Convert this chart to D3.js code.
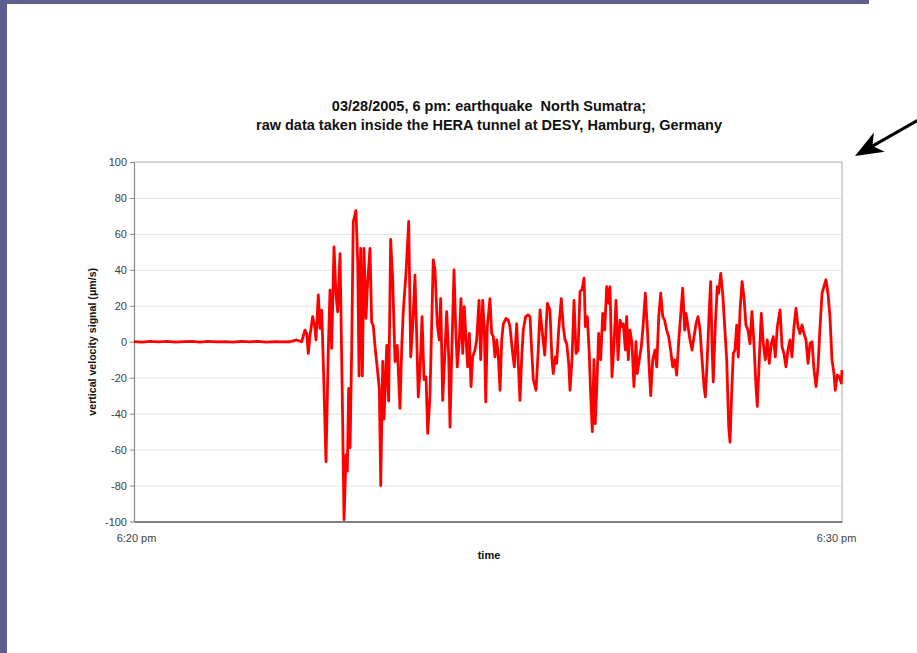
<!DOCTYPE html>
<html>
<head>
<meta charset="utf-8">
<script src="https://cdn.jsdelivr.net/npm/d3@7"></script>
<style>
  html, body { margin: 0; padding: 0; background: #ffffff; }
  svg { display: block; font-family: "Liberation Sans", Arial, sans-serif; }
</style>
</head>
<body>
<svg id="chart" width="917" height="653"></svg>
<script>
// Vertical velocity record, seconds after 6:20 pm
const timeSec = [
  0, 7, 14, 21, 28, 35, 42, 49, 56, 63, 70, 77, 84, 91, 98, 105, 112, 119, 126, 132.2,
  137.9, 142.1, 144.9, 146.4, 147.7, 149.2, 151.4, 153.4, 154.2, 156.2, 157.6, 159.1, 160.4,
  162.7, 164.7, 166.1, 167.5, 169.5, 171.2, 172.6, 174.6, 176.5, 178.0, 179.7, 180.8, 181.9,
  183.1, 184.5, 185.8, 188.1, 189.6, 190.7, 192.1, 193.5, 194.9, 196.6, 197.7, 200.0, 201.4,
  202.8, 204.2, 206.2, 207.9, 209.1, 210.8, 211.9, 214.2, 215.8, 217.5, 219.2, 221.2, 223.1,
  225.4, 226.9, 228.2, 230.5, 232.8, 234.5, 236.2, 238.1, 239.6, 240.9, 242.4, 244.1, 245.8,
  247.5, 248.9, 250.8, 253.6, 255.1, 257.0, 258.7, 259.9, 261.6, 263.3, 265.0, 266.7, 267.8,
  269.2, 271.2, 272.6, 274.0, 275.7, 277.1, 278.6, 279.9, 281.4, 282.8, 284.2, 285.6, 287.0,
  289.0, 290.4, 292.4, 293.8, 295.5, 296.9, 298.1, 299.4, 301.7, 303.1, 304.5, 305.9, 307.4,
  308.7, 310.2, 311.6, 313.0, 315.3, 317.2, 318.6, 320.6, 322.3, 324.3, 325.7, 327.1, 328.6,
  329.9, 331.9, 333.9, 335.6, 337.0, 338.4, 340.7, 342.6, 344.1, 346.4, 348.1, 350.3, 352.5,
  354.2, 355.3, 357.0, 358.2, 359.9, 362.1, 363.8, 365.3, 366.7, 368.4, 369.5, 371.2, 372.9,
  374.6, 376.3, 378.0, 379.7, 381.4, 382.5, 384.2, 385.8, 387.0, 388.4, 389.8, 390.9, 392.1,
  393.8, 395.5, 397.2, 398.9, 400.6, 402.3, 403.4, 405.1, 406.8, 408.5, 410.2, 411.9, 413.3,
  414.7, 416.4, 417.5, 418.9, 420.3, 422.0, 423.7, 425.4, 426.5, 428.2, 429.9, 431.6, 433.3,
  435.0, 436.7, 437.9, 439.6, 441.5, 443.0, 444.7, 446.4, 448.1, 449.7, 451.4, 453.1, 454.8,
  456.5, 458.2, 459.9, 461.6, 465.0, 466.7, 467.8, 469.5, 471.2, 472.9, 474.6, 476.3, 478.0,
  479.7, 481.4, 483.1, 484.2, 485.8, 487.5, 488.7, 489.8, 490.9, 492.6, 494.3, 495.5, 497.2,
  498.9, 500.6, 502.3, 504.0, 505.1, 506.5, 507.9, 509.3, 510.8, 512.1, 513.6, 515.3, 516.9,
  518.6, 520.3, 522.0, 523.7, 525.4, 527.1, 528.2, 529.9, 531.6, 533.3, 535.0, 536.7, 538.4,
  540.1, 541.8, 543.5, 545.2, 547.5, 549.2, 550.8, 552.5, 554.2, 555.9, 557.6, 559.3, 561.0,
  562.7, 564.4, 566.1, 567.8, 569.5, 571.2, 572.9, 574.6, 576.3, 578.0, 579.7, 581.4, 583.1,
  584.7, 586.4, 588.1, 589.8, 591.5, 593.2, 594.3, 596.0, 597.7, 599.4, 600.0
];

// Vertical velocity signal in µm/s, one value per entry of timeSec
const velocity = [
  0.1, -0.2, 0.2, -0.1, 0.2, -0.2, 0.1, 0.2, -0.2, 0.2, -0.1, 0.1, -0.2, 0.2, -0.1, 0.2, -0.2, 0.1, -0.1, 0,
  1, 0, 6.5, 4.6, -6.5, 3.7, 14, 7.4, 1, 26, 7.4, 17.6, -11,
  -66.7, -3.7, 28.7, -3.7, 52.8, 25.9, 16.7, 49, -29.6, -99, -63, -72, -26,
  -59, -3.7, 66.7, 73, 44, -19, 52, -19, 52, 13, 29.6, 52, 11,
  9, -2, -15, -26, -80, -11, -43, -2, -33, 57, 35, -11, -2,
  -37, -2.8, 16.8, 38, 67, -8.4, 8.4, 37, 2.8, -30.7, -15.8, 14, -21,
  -19.5, -51, -30.7, 45.6, 40, 10, 1, 24, -32.6, -8.4, 16.8, -8.4, -47.5,
  -8.4, 40, 8.4, -14, 1, 24, -6.5, 19.5, 1, -14, 4.6, -25, -8.4,
  -4.6, 1, 23, -10, 23, 6.5, -33.5, 8.4, 24, 4.6, 2.8, -8.4, 1,
  -7.4, -27, 1, 10, 13, 12, 8.4, -4.6, -14, 10, -12, -32.6, -8.4,
  6.5, 14, 15, 14, -4.6, -21, -27, -4.6, 17.7, 2.8, -7.4, 21.4, 17.7,
  -10, -17.7, -8.4, -12, 6.5, 24, 8.4, 1, -1, -12, -27, -10, 23,
  -6.5, -4.6, 28, 29, 35.4, 8.4, 14, -6.5, -29, -50, -10, -45.6, -27,
  4.6, -10, 15.8, 6.5, 30.7, 21.4, 30.7, -19.5, -1, 23, -10, 12, 8.4,
  10, -4.6, 14, -10, 6.5, -1, -25, 0, -17.7, -10, -2.8, 10, 27,
  8.4, -15.8, -30, -10, -4.6, -14, 14, 27, 14, 12, 6.5, 2.8, -4.6,
  -14, -10, -18.6, 0, 29.8, 6.5, 15.8, 8.4, 1, -4.6, 2.8, 10, 14,
  6.5, -10, -25, -30.7, -10, 17.7, 33.5, -1, -22.3, 8.4, 30.7, 27, 38,
  27, 8.4, -10, -47.5, -55.9, -28.8, -6.5, -4.6, 9.3, -8.4, 17.7, 33.5, 25,
  9.3, 6.5, -1, 16.8, -1, -25, -36, -10, 15.8, -1, -10, 1, -12,
  -1, 2.8, -8.4, 8.4, 17.7, -2.8, -6.5, -14, -4.6, 1, -8.4, 8.4, 18.6,
  8.4, 4.6, 9.3, 4.6, 1, -12, -1, 0, -15.8, -25, -14, 8.4, 27,
  30.7, 34.5, 27, 14, -10, -17.7, -27, -18.6, -19.5, -23, -15.8
];

const yTicks = [100, 80, 60, 40, 20, 0, -20, -40, -60, -80, -100];
const xTicks = [0, 600];
const xTickLabels = ["6:20 pm", "6:30 pm"];
const titleLines = [
  "03/28/2005, 6 pm: earthquake  North Sumatra;",
  "raw data taken inside the HERA tunnel at DESY, Hamburg, Germany"
];
const xTitle = "time";
const yTitle = "vertical velocity signal (\u03bcm/s)";

const svg = d3.select("#chart");
const W = 917, H = 653;
const plot = { left: 134, right: 842, top: 162, bottom: 521.5 };
const fontFamily = "'Liberation Sans', Arial, sans-serif";

// Slide frame: band along the left edge and across the top
const frameColor = "#5e5f91";
svg.append("rect").attr("x", 0).attr("y", 0).attr("width", W).attr("height", H).attr("fill", "#ffffff");
svg.append("rect").attr("x", 0).attr("y", 0).attr("width", 7).attr("height", H).attr("fill", frameColor);
svg.append("rect").attr("x", 0).attr("y", 0).attr("width", 869).attr("height", 4).attr("fill", frameColor);

const x = d3.scaleLinear().domain([0, 600]).range([plot.left, plot.right]);
const y = d3.scaleLinear().domain([-100, 100]).range([plot.bottom, plot.top]);

// Horizontal gridlines
svg.append("g")
  .attr("transform", `translate(${plot.left},0)`)
  .call(d3.axisLeft(y).tickValues(yTicks).tickSize(-(plot.right - plot.left)).tickFormat(""))
  .call(g => g.select(".domain").remove())
  .call(g => g.selectAll("line").attr("stroke", "#e4e4e4").attr("stroke-width", 1));

// Plot-area border on top and right
svg.append("path")
  .attr("d", `M${plot.left},${plot.top}H${plot.right}V${plot.bottom}`)
  .attr("fill", "none").attr("stroke", "#b8b8b8").attr("stroke-width", 1.2);

// Y axis (plain hyphen for negative labels)
const yAxis = svg.append("g")
  .attr("transform", `translate(${plot.left},0)`)
  .call(d3.axisLeft(y).tickValues(yTicks).tickSizeInner(4).tickSizeOuter(0).tickPadding(3)
    .tickFormat(d => String(d)));
yAxis.select(".domain").attr("stroke", "#8a8a8a").attr("stroke-width", 1.2);
yAxis.selectAll("line").attr("stroke", "#8a8a8a");
yAxis.selectAll("text").attr("fill", "#404040").attr("font-size", "11px")
  .attr("font-family", fontFamily);

// X axis
const xAxis = svg.append("g")
  .attr("transform", `translate(0,${plot.bottom})`)
  .call(d3.axisBottom(x).tickValues(xTicks).tickSize(0).tickPadding(13)
    .tickFormat((d, i) => xTickLabels[i]));
xAxis.select(".domain").attr("stroke", "#5a5a5a").attr("stroke-width", 1.4);
xAxis.selectAll("text").attr("fill", "#404040").attr("font-size", "11px")
  .attr("font-family", fontFamily)
  .attr("dx", (d, i) => (i === 0 ? 2 : -6));

// Seismic trace
const series = timeSec.map((t, i) => ({ t, v: velocity[i] }));
svg.append("path")
  .datum(series)
  .attr("fill", "none")
  .attr("stroke", "#ff0000")
  .attr("stroke-width", 2.8)
  .attr("stroke-linejoin", "round")
  .attr("d", d3.line().x(d => x(d.t)).y(d => y(d.v)));

// Titles
const title = svg.append("text")
  .attr("x", 489).attr("text-anchor", "middle")
  .style("white-space", "pre")
  .attr("font-size", "14.5px").attr("font-weight", "bold").attr("fill", "#111");
title.selectAll("tspan").data(titleLines).join("tspan")
  .attr("x", 489).attr("y", (d, i) => 111 + i * 19).text(d => d);

svg.append("text")
  .attr("x", 489).attr("y", 559).attr("text-anchor", "middle")
  .attr("font-size", "11px").attr("font-weight", "bold").attr("fill", "#111")
  .text(xTitle);

svg.append("text")
  .attr("transform", `translate(96,${(plot.top + plot.bottom) / 2}) rotate(-90)`)
  .attr("text-anchor", "middle")
  .attr("font-size", "10.6px").attr("font-weight", "bold").attr("fill", "#111")
  .text(yTitle);

// Pointer arrow in the upper right
const tip = [855, 156], tail = [920, 119];
const dx = tail[0] - tip[0], dy = tail[1] - tip[1];
const len = Math.hypot(dx, dy), ux = dx / len, uy = dy / len, px = -uy, py = ux;
svg.append("line")
  .attr("x1", tip[0] + ux * 18).attr("y1", tip[1] + uy * 18)
  .attr("x2", tail[0]).attr("y2", tail[1])
  .attr("stroke", "#000").attr("stroke-width", 3);
const headLen = 28, headHalf = 11, notch = 20;
svg.append("path")
  .attr("d", d3.line()([
    tip,
    [tip[0] + ux * headLen + px * headHalf, tip[1] + uy * headLen + py * headHalf],
    [tip[0] + ux * notch, tip[1] + uy * notch],
    [tip[0] + ux * headLen - px * headHalf, tip[1] + uy * headLen - py * headHalf]
  ]) + "Z")
  .attr("fill", "#000");
</script>
</body>
</html>
